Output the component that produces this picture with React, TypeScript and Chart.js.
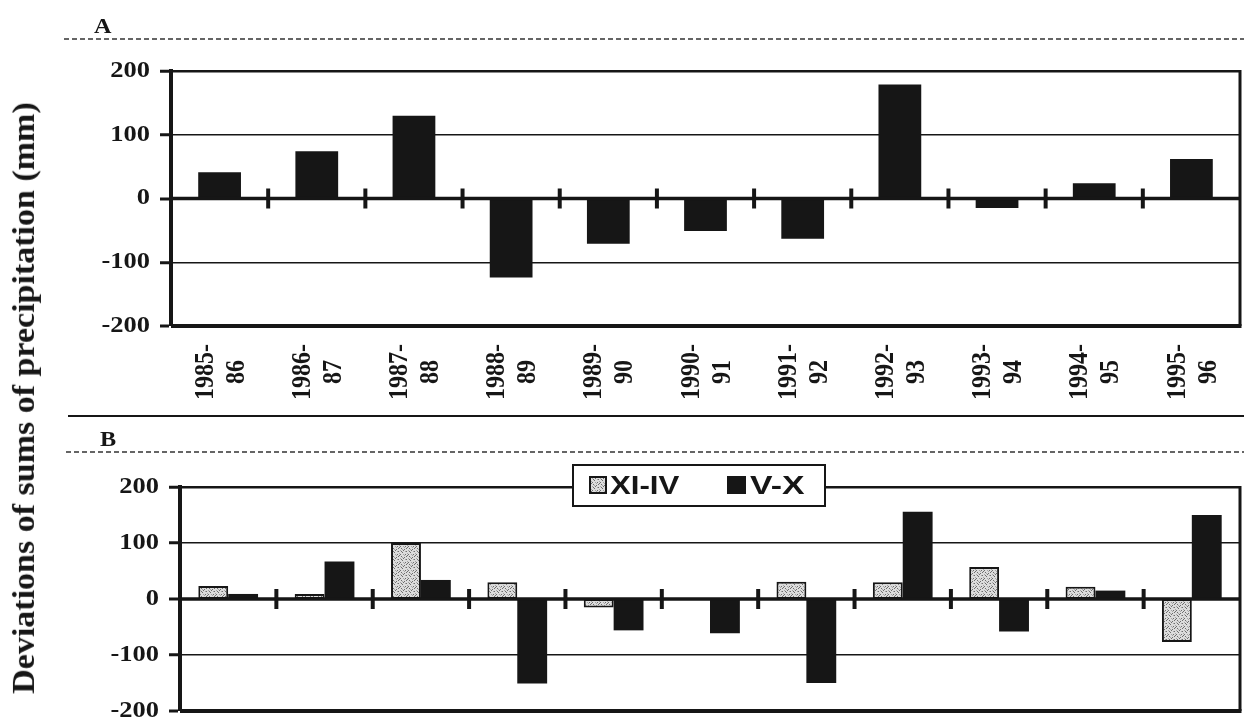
import React, { useEffect, useRef } from "react";
import { Chart, registerables } from "chart.js";
Chart.register(...registerables);

// ---------- data ----------
const seasons: string[][] = [
  ["1985-", "86"], ["1986-", "87"], ["1987-", "88"], ["1988-", "89"],
  ["1989-", "90"], ["1990-", "91"], ["1991-", "92"], ["1992-", "93"],
  ["1993-", "94"], ["1994-", "95"], ["1995-", "96"],
];
const annualDeviation = [41, 74, 130, -124, -71, -51, -63, 179, -15, 24, 62];
const winterDeviation = [23, 9, 100, 30, -15, 0, 31, 30, 57, 22, -77];
const summerDeviation = [9, 67, 34, -151, -56, -61, -150, 156, -58, 15, 150];
const yTicks = [-200, -100, 0, 100, 200];
const panelLabels = ["A", "B"];
const seriesNames = ["XI-IV", "V-X"];
const yTitle = "Deviations of sums of precipitation (mm)";

const INK = "#161616";
const SERIF = '"Liberation Serif", "Times New Roman", serif';
const SANS = '"Liberation Sans", Arial, sans-serif';

function stretchedText(ctx: CanvasRenderingContext2D, text: string, x: number, y: number, font: string, align: CanvasTextAlign, sx: number, baseline: CanvasTextBaseline = "middle") {
  ctx.save();
  ctx.translate(x, y);
  ctx.scale(sx, 1);
  ctx.font = font;
  ctx.fillStyle = INK;
  ctx.textAlign = align;
  ctx.textBaseline = baseline;
  ctx.fillText(text, 0, 0);
  ctx.restore();
}

function line(ctx: CanvasRenderingContext2D, x1: number, y1: number, x2: number, y2: number) {
  ctx.beginPath();
  ctx.moveTo(x1, y1);
  ctx.lineTo(x2, y2);
  ctx.stroke();
}

const framePlugin = {
  id: "frame",
  afterDatasetsDraw(chart: any) {
    const { ctx, chartArea: a, scales } = chart;
    const x = scales.x, y = scales.y;
    const y0 = y.getPixelForValue(0);
    ctx.save();
    ctx.strokeStyle = INK;
    ctx.lineWidth = 3;
    line(ctx, a.right, a.top - 1, a.right, a.bottom);
    ctx.lineWidth = 4;
    line(ctx, a.left, a.bottom, a.right + 1.5, a.bottom);
    ctx.lineWidth = 3.5;
    line(ctx, a.left, y0, a.right, y0);
    ctx.lineWidth = 4;
    for (let i = 0; i < seasons.length - 1; i++) {
      const bx = (x.getPixelForValue(i) + x.getPixelForValue(i + 1)) / 2;
      line(ctx, bx, y0 - 10, bx, y0 + 10);
    }
    // y tick labels
    for (const t of y.ticks) {
      const py = y.getPixelForValue(t.value);
      stretchedText(ctx, String(t.value), a.left - 21, py, `bold 23px ${SERIF}`, "right", 1.15);
    }
    ctx.restore();
  },
};

function makeOptions(left: number, top: number, xHeight: number) {
  return {
    responsive: false,
    devicePixelRatio: 1,
    animation: false,
    layout: { padding: { left: 0, right: 4, top, bottom: 0 } },
    plugins: { legend: { display: false }, tooltip: { enabled: false } },
    scales: {
      x: {
        type: "category",
        offset: true,
        ticks: { display: false },
        grid: { display: false },
        border: { display: false },
        afterFit: (s: any) => { s.height = xHeight; },
      },
      y: {
        min: -200,
        max: 200,
        afterBuildTicks: (s: any) => { s.ticks = yTicks.map((v) => ({ value: v })); },
        afterFit: (s: any) => { s.width = left; },
        ticks: { display: false },
        border: { display: true, color: INK, width: 4 },
        grid: {
          color: INK,
          lineWidth: (c: any) => {
            const v = c.tick ? c.tick.value : 0;
            if (v === 100 || v === -100) return 1.5;
            if (v === 200) return 2.5;
            return 0;
          },
          drawTicks: true,
          tickLength: 11,
          tickWidth: 3,
          tickColor: INK,
        },
      },
    },
  };
}

function makePattern(): CanvasPattern | string {
  const c = document.createElement("canvas");
  c.width = 8;
  c.height = 8;
  const g = c.getContext("2d");
  if (!g) return "#d0d0d0";
  g.fillStyle = "#dcdcdc";
  g.fillRect(0, 0, 8, 8);
  const dark = [[1, 0], [4, 1], [6, 3], [2, 4], [0, 6], [5, 6], [3, 2], [7, 7], [6, 0], [1, 3]];
  const mid = [[2, 1], [5, 3], [3, 6], [7, 5], [0, 2], [4, 7]];
  g.fillStyle = "#6e6e6e";
  dark.forEach(([px, py]) => g.fillRect(px, py, 1, 1));
  g.fillStyle = "#a6a6a6";
  mid.forEach(([px, py]) => g.fillRect(px, py, 1, 1));
  return g.createPattern(c, "repeat") || "#d0d0d0";
}

export default function App() {
  const refA = useRef<HTMLCanvasElement>(null);
  const refB = useRef<HTMLCanvasElement>(null);

  useEffect(() => {
    const labels = seasons.map((s) => s[0] + s[1]);
    const pattern = makePattern();

    const decorA = {
      id: "decorA",
      afterDraw(chart: any) {
        const { ctx, scales } = chart;
        const x = scales.x;
        ctx.save();
        stretchedText(ctx, panelLabels[0], 94, 33, `bold 22px ${SERIF}`, "left", 1.1, "alphabetic");
        ctx.strokeStyle = "#333";
        ctx.lineWidth = 1.5;
        ctx.setLineDash([5, 3]);
        line(ctx, 64, 39, 1244, 39);
        ctx.setLineDash([]);
        // category labels (rotated, two lines)
        seasons.forEach((s, i) => {
          const cx = x.getPixelForValue(i);
          [[s[0], -14], [s[1], 17]].forEach(([txt, off]) => {
            ctx.save();
            ctx.translate(cx + (off as number), 372);
            ctx.rotate(-Math.PI / 2);
            ctx.scale(1, 1.15);
            ctx.font = `bold 24px ${SERIF}`;
            ctx.fillStyle = INK;
            ctx.textAlign = "center";
            ctx.textBaseline = "middle";
            ctx.fillText(txt as string, 0, 0);
            ctx.restore();
          });
        });
        ctx.restore();
      },
    };

    const decorB = {
      id: "decorB",
      afterDraw(chart: any) {
        const { ctx } = chart;
        ctx.save();
        ctx.strokeStyle = INK;
        ctx.lineWidth = 2;
        line(ctx, 68, 4, 1244, 4);
        stretchedText(ctx, panelLabels[1], 100, 34, `bold 22px ${SERIF}`, "left", 1.1, "alphabetic");
        ctx.strokeStyle = "#333";
        ctx.lineWidth = 1.5;
        ctx.setLineDash([5, 3]);
        line(ctx, 66, 40, 1244, 40);
        ctx.setLineDash([]);
        // legend box
        ctx.fillStyle = "#fff";
        ctx.fillRect(573, 53, 252, 41);
        ctx.strokeStyle = INK;
        ctx.lineWidth = 2;
        ctx.strokeRect(573, 53, 252, 41);
        ctx.fillStyle = pattern as any;
        ctx.fillRect(590, 65, 16, 16);
        ctx.lineWidth = 2;
        ctx.strokeRect(590, 65, 16, 16);
        stretchedText(ctx, seriesNames[0], 610, 82, `bold 26px ${SANS}`, "left", 1.2, "alphabetic");
        ctx.fillStyle = INK;
        ctx.fillRect(727, 64, 19, 18);
        stretchedText(ctx, seriesNames[1], 750, 82, `bold 26px ${SANS}`, "left", 1.3, "alphabetic");
        ctx.restore();
      },
    };

    const chartA = new Chart(refA.current as HTMLCanvasElement, {
      type: "bar",
      data: {
        labels,
        datasets: [
          {
            label: "annual",
            data: annualDeviation,
            backgroundColor: INK,
            borderWidth: 0,
            barPercentage: 0.44,
            categoryPercentage: 1.0,
          },
        ],
      },
      options: makeOptions(171, 71, 412 - 326) as any,
      plugins: [framePlugin, decorA],
    } as any);

    const chartB = new Chart(refB.current as HTMLCanvasElement, {
      type: "bar",
      data: {
        labels,
        datasets: [
          {
            label: seriesNames[0],
            data: winterDeviation,
            backgroundColor: pattern,
            borderColor: INK,
            borderWidth: 2,
            borderSkipped: false,
            barPercentage: 1.0,
            categoryPercentage: 0.62,
          },
          {
            label: seriesNames[1],
            data: summerDeviation,
            backgroundColor: INK,
            borderWidth: 0,
            barPercentage: 1.0,
            categoryPercentage: 0.62,
          },
        ],
      },
      options: makeOptions(180, 75, 310 - 299) as any,
      plugins: [framePlugin, decorB],
    } as any);

    return () => {
      chartA.destroy();
      chartB.destroy();
    };
  }, []);

  return (
    <div style={{ position: "absolute", left: 0, top: 0, width: 1244, height: 722, background: "#fff", overflow: "hidden" }}>
      <canvas ref={refA} width={1244} height={412} style={{ position: "absolute", left: 0, top: 0, width: 1244, height: 412 }} />
      <canvas ref={refB} width={1244} height={310} style={{ position: "absolute", left: 0, top: 412, width: 1244, height: 310 }} />
      <div
        style={{
          position: "absolute",
          left: 23,
          top: 398,
          transform: "translate(-50%, -50%) scaleX(0.95) rotate(-90deg)",
          whiteSpace: "nowrap",
          font: `bold 34px ${SERIF}`,
          color: INK,
          lineHeight: "38px",
        }}
      >
        {yTitle}
      </div>
    </div>
  );
}
